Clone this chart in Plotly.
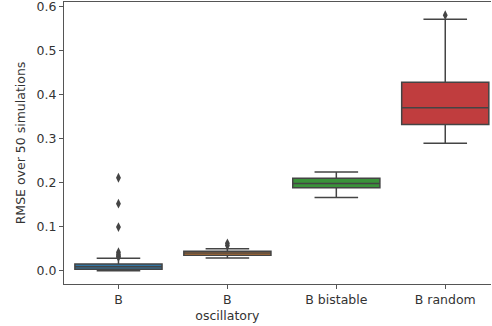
import plotly.graph_objects as go

categories = ["B", "B<br>oscillatory", "B bistable", "B random"]
q1 = [0.003, 0.035, 0.188, 0.332]
median = [0.009, 0.040, 0.198, 0.370]
q3 = [0.015, 0.044, 0.210, 0.428]
lowerfence = [0.0, 0.029, 0.166, 0.289]
upperfence = [0.028, 0.050, 0.224, 0.571]
outliers = [
    [0.211, 0.152, 0.099, 0.042, 0.037, 0.033, 0.031],
    [0.057, 0.062],
    [],
    [0.580],
]
colors = ["#3274a1", "#e1812c", "#3a923a", "#c03d3e"]
edge = "#444444"

fig = go.Figure()
for i in range(len(categories)):
    fig.add_trace(go.Box(
        x=[i], q1=[q1[i]], median=[median[i]], q3=[q3[i]],
        lowerfence=[lowerfence[i]], upperfence=[upperfence[i]],
        width=0.8, whiskerwidth=0.5, fillcolor=colors[i],
        line=dict(color=edge, width=1.5), boxpoints=False,
        showlegend=False, hoverinfo="skip",
    ))
    if outliers[i]:
        fig.add_trace(go.Scatter(
            x=[i] * len(outliers[i]), y=outliers[i], mode="markers",
            marker=dict(symbol="diamond-tall", size=7, color=edge),
            showlegend=False, hoverinfo="skip",
        ))

fig.update_layout(
    width=492, height=326,
    margin=dict(l=64, r=1, t=2, b=42),
    paper_bgcolor="white", plot_bgcolor="white",
    font=dict(family="DejaVu Sans", size=12.5, color="#333333"),
    xaxis=dict(
        range=[-0.5, 3.42], tickvals=[0, 1, 2, 3], ticktext=categories,
        showline=True, linecolor="#555", linewidth=1.2, mirror=True,
        ticks="outside", ticklen=4, tickcolor="#555", showgrid=False,
        zeroline=False, automargin=False, ticklabeloverflow="allow",
    ),
    yaxis=dict(
        range=[-0.0303, 0.61], tickvals=[0, 0.1, 0.2, 0.3, 0.4, 0.5, 0.6],
        ticktext=["0.0", "0.1", "0.2", "0.3", "0.4", "0.5", "0.6"],
        showline=True, linecolor="#555", linewidth=1.2,
        ticks="outside", ticklen=4, tickcolor="#555", showgrid=False,
        zeroline=False, automargin=False, ticklabeloverflow="allow",
        title=dict(text="RMSE over 50 simulations", standoff=8,
                   font=dict(size=12.5)),
    ),
)

fig.write_html("out.html", config={"displayModeBar": False},
               post_script="document.body.style.margin='0';document.body.style.overflow='hidden';")
